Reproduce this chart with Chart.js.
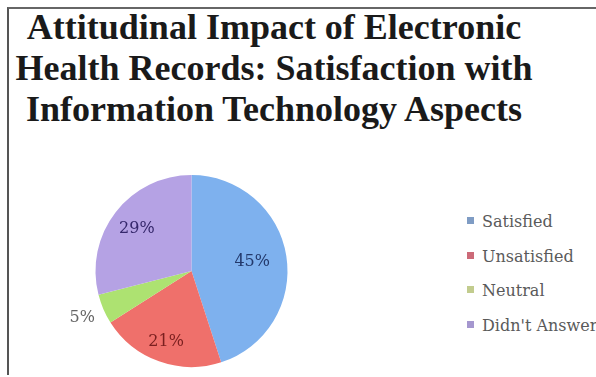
<!DOCTYPE html>
<html>
<head>
<meta charset="utf-8">
<script src="https://cdn.jsdelivr.net/npm/chart.js@4/dist/chart.umd.min.js"></script>
<style>
  html, body { margin: 0; padding: 0; background: #fff; overflow: hidden; }
  body { width: 596px; height: 377px; position: relative; }
  .frame {
    position: absolute; left: 7px; top: 7px; right: -4px; bottom: 2px;
    border-top: 2px solid #666; border-left: 2px solid #555;
  }
  .title {
    position: absolute; left: 0; width: 548px; top: 7px;
    text-align: center; color: #1a1a1a;
    font: bold 36px "Liberation Serif", serif; line-height: 41px;
  }
  #pieWrap { position: absolute; left: 40px; top: 160px; width: 300px; height: 217px; }
  .legend {
    position: absolute; left: 467px; top: 209px; margin: 0; padding: 0; list-style: none;
    font: 16px "DejaVu Serif", serif; color: #5a5a5a; white-space: nowrap;
  }
  .legend li { height: 34.5px; line-height: 26px; }
  .legend span { display: inline-block; width: 7px; height: 7px; margin-right: 8px; vertical-align: 3px; }
</style>
</head>
<body>
<div class="frame"></div>
<div class="title">Attitudinal Impact of Electronic<br>Health Records: Satisfaction with<br>Information Technology Aspects</div>
<div id="pieWrap"><canvas id="pieChart"></canvas></div>
<ul class="legend" id="legend"></ul>

<script>
  // Survey responses (percent)
  const categories = ['Satisfied', 'Unsatisfied', 'Neutral', "Didn't Answer"];
  const shares = [45, 21, 5, 29];
  const sliceColors = ['#7eb1ee', '#ef706b', '#ade271', '#b5a2e4'];
  const legendColors = ['#7f9cc4', '#cc6a78', '#c2cc8e', '#a597cf'];
  const labelColors = ['#23396b', '#7a1f1f', '#666666', '#35276b'];

  // how far out each percentage sits, as a fraction of the radius
  const labelOffsets = [0.64, 0.78, 1.24, 0.72];

  const sliceLabels = {
    id: 'sliceLabels',
    afterDatasetsDraw(chart) {
      const c = chart.ctx;
      const meta = chart.getDatasetMeta(0);
      c.save();
      c.font = '16px "DejaVu Serif", serif';
      c.textAlign = 'center';
      c.textBaseline = 'middle';
      meta.data.forEach((arc, i) => {
        const mid = (arc.startAngle + arc.endAngle) / 2;
        const r = arc.outerRadius * labelOffsets[i];
        c.fillStyle = labelColors[i];
        c.fillText(shares[i] + '%', arc.x + Math.cos(mid) * r, arc.y + Math.sin(mid) * r);
      });
      c.restore();
    }
  };

  new Chart(document.getElementById('pieChart'), {
    type: 'pie',
    data: {
      labels: categories,
      datasets: [{
        data: shares,
        backgroundColor: sliceColors,
        borderWidth: 0
      }]
    },
    options: {
      responsive: true,
      maintainAspectRatio: false,
      animation: false,
      layout: { padding: { left: 53, right: 50, top: 15, bottom: 10 } },
      plugins: {
        legend: { display: false },
        tooltip: { enabled: false }
      }
    },
    plugins: [sliceLabels]
  });

  // legend list
  const legendEl = document.getElementById('legend');
  categories.forEach((name, i) => {
    const li = document.createElement('li');
    const box = document.createElement('span');
    box.style.background = legendColors[i];
    li.appendChild(box);
    li.appendChild(document.createTextNode(name));
    legendEl.appendChild(li);
  });
</script>
</body>
</html>
